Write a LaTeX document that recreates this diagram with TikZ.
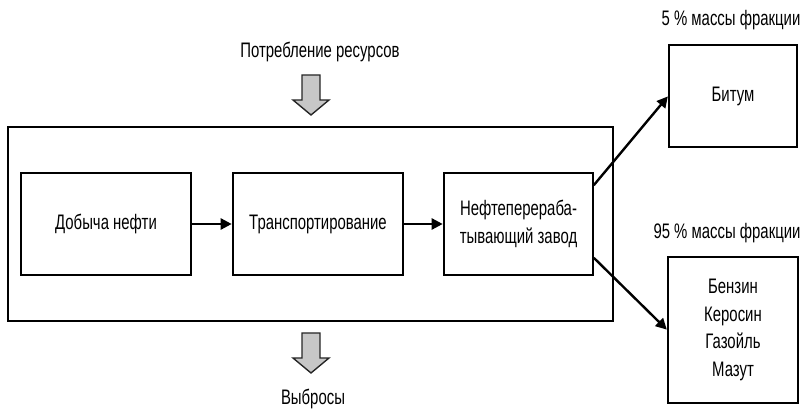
\documentclass[tikz,border=0pt]{standalone}
\usepackage{fontspec}
\setmainfont{Liberation Sans}[FakeStretch=0.71]
\usetikzlibrary{calc,arrows.meta}
\tikzset{
  box/.style={draw, line width=1.6pt, inner sep=0pt, align=center, font=\lbl},
  conn/.style={line width=2.4pt, -{Triangle[length=11pt,width=11pt]}, shorten >=0.5pt},
  blockarrow/.style={draw=black!85, fill=black!22, line width=1.4pt, line join=miter},
  lab/.style={inner sep=0pt, font=\lbl}
}
\newcommand{\lbl}{\fontsize{21}{27.5}\selectfont}
\begin{document}
\begin{tikzpicture}[x=1pt,y=-1pt]
\useasboundingbox (0,0) rectangle (809,411);
\node[box, minimum width=605pt, minimum height=194pt] (outer) at (310.5,224) {};
\node[box, minimum width=170pt, minimum height=102pt] (b1) at (106,224) {Добыча нефти};
\node[box, minimum width=170pt, minimum height=102pt] (b2) at (318,224) {Транспортирование};
\node[box, minimum width=149pt, minimum height=102pt] (b3) at (518.5,224) {Нефтеперераба-\\тывающий завод};
\node[box, minimum width=128pt, minimum height=102pt] (bit) at (733,96) {Битум};
\node[box, minimum width=130pt, minimum height=146pt] (low) at (733,330) {Бензин\\Керосин\\Газойль\\Мазут};
\node[lab] (t5) at (731,20) {5 \% массы фракции};
\node[lab] (t95) at (727,233) {95 \% массы фракции};
\node[lab] (tres) at (320,52) {Потребление ресурсов};
\node[lab] (tvyb) at (313,399) {Выбросы};
\coordinate (s1) at ($(b3.north east)+(0,13)$);
\coordinate (s2) at ($(b3.south east)+(0,-18)$);
\draw[conn] (b1.east) -- (b2.west);
\draw[conn] (b2.east) -- (b3.west);
\draw[conn] (s1) -- (bit.west);
\draw[conn] (s2) -- (low.west);
\draw[blockarrow] (302,75) -- (320,75) -- (320,100) -- (329,100) -- (311,115) -- (293,100) -- (302,100) -- cycle;
\draw[blockarrow] (302,333) -- (320,333) -- (320,358) -- (329,358) -- (311,373) -- (293,358) -- (302,358) -- cycle;
\end{tikzpicture}
\end{document}
